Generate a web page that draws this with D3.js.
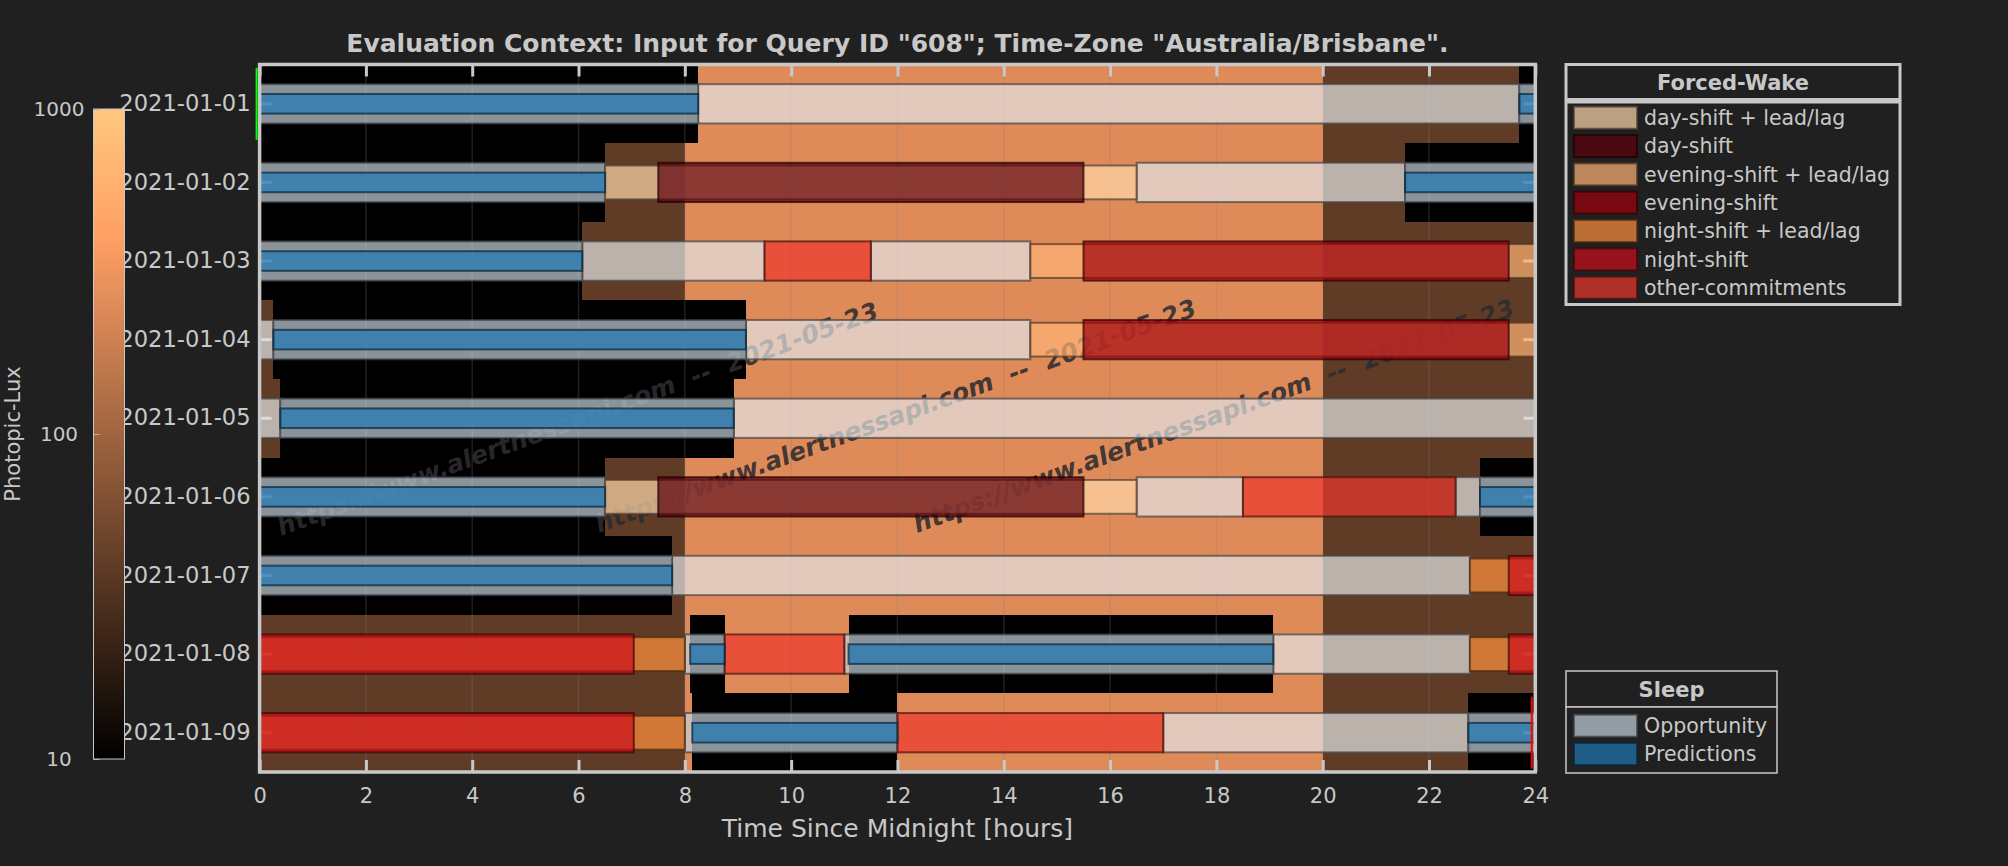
<!DOCTYPE html>
<html>
<head>
<meta charset="utf-8">
<script src="https://cdn.jsdelivr.net/npm/d3@7"></script>
<style>
  html, body { margin: 0; padding: 0; background: #202020; }
  svg { display: block; font-family: "DejaVu Sans", sans-serif; }
</style>
</head>
<body>
<div id="chart"></div>
<script>
// ---------- data ----------
const days = ["2021-01-01", "2021-01-02", "2021-01-03", "2021-01-04", "2021-01-05",
              "2021-01-06", "2021-01-07", "2021-01-08", "2021-01-09"];
const xTicks = [0, 2, 4, 6, 8, 10, 12, 14, 16, 18, 20, 22, 24];
const luxTicks = [10, 100, 1000];

// [day, start hour, end hour, photopic lux]
const luxBands = [
  ["2021-01-01", 0, 8.25, 0], ["2021-01-01", 8.25, 20, 250], ["2021-01-01", 20, 23.7, 40], ["2021-01-01", 23.7, 24, 0],
  ["2021-01-02", 0, 6.5, 0], ["2021-01-02", 6.5, 8, 40], ["2021-01-02", 8, 20, 250], ["2021-01-02", 20, 21.55, 40], ["2021-01-02", 21.55, 24, 0],
  ["2021-01-03", 0, 6.07, 0], ["2021-01-03", 6.07, 8, 40], ["2021-01-03", 8, 20, 250], ["2021-01-03", 20, 24, 40],
  ["2021-01-04", 0, 0.26, 40], ["2021-01-04", 0.26, 9.15, 0], ["2021-01-04", 9.15, 20, 250], ["2021-01-04", 20, 24, 40],
  ["2021-01-05", 0, 0.39, 40], ["2021-01-05", 0.39, 8.92, 0], ["2021-01-05", 8.92, 20, 250], ["2021-01-05", 20, 24, 40],
  ["2021-01-06", 0, 6.5, 0], ["2021-01-06", 6.5, 8, 40], ["2021-01-06", 8, 20, 250], ["2021-01-06", 20, 22.96, 40], ["2021-01-06", 22.96, 24, 0],
  ["2021-01-07", 0, 7.76, 0], ["2021-01-07", 7.76, 8, 40], ["2021-01-07", 8, 20, 250], ["2021-01-07", 20, 24, 40],
  ["2021-01-08", 0, 8, 40], ["2021-01-08", 8, 8.1, 250], ["2021-01-08", 8.1, 8.75, 0], ["2021-01-08", 8.75, 11.08, 250],
  ["2021-01-08", 11.08, 19.07, 0], ["2021-01-08", 19.07, 20, 250], ["2021-01-08", 20, 24, 40],
  ["2021-01-09", 0, 8, 40], ["2021-01-09", 8, 8.14, 250], ["2021-01-09", 8.14, 12, 0], ["2021-01-09", 12, 20, 250],
  ["2021-01-09", 20, 22.74, 40], ["2021-01-09", 22.74, 24, 0]
];

// [day, start, end]
const sleepOpportunity = [
  ["2021-01-01", 0, 8.25], ["2021-01-01", 23.7, 24],
  ["2021-01-02", 0, 6.5], ["2021-01-02", 21.55, 24],
  ["2021-01-03", 0, 6.07],
  ["2021-01-04", 0.26, 9.15],
  ["2021-01-05", 0.39, 8.92],
  ["2021-01-06", 0, 6.5], ["2021-01-06", 22.96, 24],
  ["2021-01-07", 0, 7.76],
  ["2021-01-08", 8.0, 8.75], ["2021-01-08", 11.0, 19.07],
  ["2021-01-09", 8.0, 12.0], ["2021-01-09", 22.74, 24]
];

const sleepPredictions = [
  ["2021-01-01", 0, 8.25], ["2021-01-01", 23.7, 24],
  ["2021-01-02", 0, 6.5], ["2021-01-02", 21.55, 24],
  ["2021-01-03", 0, 6.07],
  ["2021-01-04", 0.26, 9.15],
  ["2021-01-05", 0.39, 8.92],
  ["2021-01-06", 0, 6.5], ["2021-01-06", 22.96, 24],
  ["2021-01-07", 0, 7.76],
  ["2021-01-08", 8.1, 8.75], ["2021-01-08", 11.08, 19.07],
  ["2021-01-09", 8.14, 12.0], ["2021-01-09", 22.74, 24]
];

// unlabeled wake spans
const wakeSpans = [
  ["2021-01-01", 8.25, 23.7],
  ["2021-01-02", 16.5, 21.55],
  ["2021-01-03", 6.07, 9.5], ["2021-01-03", 11.5, 14.5],
  ["2021-01-04", 0, 0.26], ["2021-01-04", 9.15, 14.5],
  ["2021-01-05", 0, 0.39], ["2021-01-05", 8.92, 24],
  ["2021-01-06", 16.5, 18.5], ["2021-01-06", 22.5, 22.96],
  ["2021-01-07", 7.76, 22.77],
  ["2021-01-08", 19.07, 22.77],
  ["2021-01-09", 17.0, 22.74]
];

const forcedWakeCategories = ["day-shift + lead/lag", "day-shift", "evening-shift + lead/lag",
  "evening-shift", "night-shift + lead/lag", "night-shift", "other-commitments"];

// [day, start, end, category]
const forcedWake = [
  ["2021-01-02", 6.5, 16.5, "day-shift + lead/lag"], ["2021-01-02", 7.5, 15.5, "day-shift"],
  ["2021-01-03", 9.5, 11.5, "other-commitments"],
  ["2021-01-03", 14.5, 24, "evening-shift + lead/lag"], ["2021-01-03", 15.5, 23.5, "evening-shift"],
  ["2021-01-04", 14.5, 24, "evening-shift + lead/lag"], ["2021-01-04", 15.5, 23.5, "evening-shift"],
  ["2021-01-06", 6.5, 16.5, "day-shift + lead/lag"], ["2021-01-06", 7.5, 15.5, "day-shift"],
  ["2021-01-06", 18.5, 22.5, "other-commitments"],
  ["2021-01-07", 22.77, 24, "night-shift + lead/lag"], ["2021-01-07", 23.5, 24, "night-shift"],
  ["2021-01-08", 0, 8.0, "night-shift + lead/lag"], ["2021-01-08", 0, 7.04, "night-shift"],
  ["2021-01-08", 8.75, 11.0, "other-commitments"],
  ["2021-01-08", 22.77, 24, "night-shift + lead/lag"], ["2021-01-08", 23.5, 24, "night-shift"],
  ["2021-01-09", 0, 8.0, "night-shift + lead/lag"], ["2021-01-09", 0, 7.04, "night-shift"],
  ["2021-01-09", 12.0, 17.0, "other-commitments"]
];

const sleepCategories = ["Opportunity", "Predictions"];
const dataStart = ["2021-01-01", 0];
const dataEnd = ["2021-01-09", 24];
const watermarkText = "https://www.alertnessapi.com  --  2021-05-23";
const titleText = 'Evaluation Context: Input for Query ID "608"; Time-Zone "Australia/Brisbane".';

// ---------- setup ----------
const W = 2008, H = 866;
const textColor = "#c8c8c8";
const alpha = 0.7;

const svg = d3.select("#chart").append("svg")
    .attr("width", W)
    .attr("height", H);

svg.append("rect").attr("width", W).attr("height", H).attr("fill", "#202020");

const x = d3.scaleLinear().domain([0, 24]).range([259.6, 1535.3]);
const y = d3.scaleBand().domain(days).range([64.5, 772]);
const bw = y.bandwidth();
const yc = d => y(d) + bw / 2;

// matplotlib "copper" colormap on a log lux scale
const copper = t => d3.rgb(Math.min(1, 1.25 * t) * 255, 0.7812 * t * 255, 0.4975 * t * 255);
const luxNorm = d3.scaleLog().domain([10, 1000]).range([0, 1]).clamp(true);
const luxColor = v => copper(luxNorm(Math.max(v, 10)));

const categoryColor = d3.scaleOrdinal()
    .domain(forcedWakeCategories)
    .range(["#ffd7a9", "#5c000b", "#ffb476", "#9e000c", "#ff923f", "#cc0d1a", "#ec372d"]);
const sleepColor = d3.scaleOrdinal()
    .domain(sleepCategories)
    .range(["#c5d1dc", "#1f77b4"]);
const wakeColor = "#e2e4e6";
const edge = c => d3.color(c).darker(3.3);

// ---------- heatmap ----------
svg.append("g").selectAll("rect")
    .data(luxBands)
    .join("rect")
    .attr("x", d => x(d[1]))
    .attr("width", d => x(d[2]) - x(d[1]))
    .attr("y", d => y(d[0]))
    .attr("height", bw)
    .attr("fill", d => luxColor(d[3]))
    .attr("shape-rendering", "crispEdges");

// grid
svg.append("g").selectAll("line")
    .data(xTicks.slice(1, -1))
    .join("line")
    .attr("x1", d => x(d)).attr("x2", d => x(d))
    .attr("y1", 64.5).attr("y2", 772)
    .attr("stroke", "#808080")
    .attr("stroke-opacity", 0.25)
    .attr("stroke-width", 1.5);

// ---------- axes ----------
function styleAxis(g, fs) {
    g.attr("font-family", "DejaVu Sans").attr("font-size", fs);
    g.select(".domain").remove();
    g.selectAll(".tick line").attr("stroke", textColor).attr("stroke-width", 3);
    g.selectAll(".tick text").attr("fill", textColor);
}

svg.append("g")
    .attr("transform", "translate(0,772)")
    .call(d3.axisBottom(x).tickValues(xTicks).tickSizeInner(-12).tickSizeOuter(0).tickPadding(16))
    .call(g => styleAxis(g, 21));

svg.append("g")
    .attr("transform", "translate(0,64.5)")
    .call(d3.axisTop(x).tickValues(xTicks).tickSizeInner(-12).tickSizeOuter(0).tickFormat(""))
    .call(g => styleAxis(g, 21));

svg.append("g")
    .attr("transform", `translate(${x(0)},0)`)
    .call(d3.axisLeft(y).tickSizeInner(-12).tickSizeOuter(0).tickPadding(9))
    .call(g => styleAxis(g, 22.6));

svg.append("g")
    .attr("transform", `translate(${x(24)},0)`)
    .call(d3.axisRight(y).tickSizeInner(-12).tickSizeOuter(0).tickFormat(""))
    .call(g => styleAxis(g, 22));

// ---------- watermark (under the bars) ----------
const marks = [[281, 536], [599, 533], [917, 533]];
svg.append("g").selectAll("text")
    .data(marks)
    .join("text")
    .attr("transform", d => `translate(${d[0]},${d[1]}) rotate(-20)`)
    .style("white-space", "pre")
    .attr("font-size", 25)
    .attr("font-weight", "bold")
    .attr("font-style", "italic")
    .attr("fill", "#2d2d30")
    .attr("fill-opacity", 0.9)
    .text(watermarkText);

// ---------- bars ----------
function drawBars(data, colorOf, hFrac) {
    svg.append("g").selectAll("rect")
        .data(data)
        .join("rect")
        .attr("x", d => x(d[1]))
        .attr("width", d => x(d[2]) - x(d[1]))
        .attr("y", d => yc(d[0]) - bw * hFrac / 2)
        .attr("height", bw * hFrac)
        .attr("fill", d => colorOf(d))
        .attr("fill-opacity", alpha)
        .attr("stroke", d => edge(colorOf(d)))
        .attr("stroke-opacity", alpha)
        .attr("stroke-width", 2);
}

const isLead = d => d[3].includes("lead/lag");

drawBars(wakeSpans, d => wakeColor, 0.5);
drawBars(sleepOpportunity, d => sleepColor("Opportunity"), 0.5);
drawBars(forcedWake.filter(isLead), d => categoryColor(d[3]), 0.43);
drawBars(forcedWake.filter(d => !isLead(d)), d => categoryColor(d[3]), 0.5);
drawBars(sleepPredictions, d => sleepColor("Predictions"), 0.25);

// spines
svg.append("rect")
    .attr("x", x(0)).attr("y", 64.5)
    .attr("width", x(24) - x(0)).attr("height", 772 - 64.5)
    .attr("fill", "none")
    .attr("stroke", textColor)
    .attr("stroke-width", 3.5);

// start / end markers
svg.append("line")
    .attr("x1", x(dataStart[1]) - 3).attr("x2", x(dataStart[1]) - 3)
    .attr("y1", yc(dataStart[0]) - 36).attr("y2", yc(dataStart[0]) + 36)
    .attr("stroke", "#00ff00").attr("stroke-width", 2);
svg.append("line")
    .attr("x1", x(dataEnd[1]) - 3.5).attr("x2", x(dataEnd[1]) - 3.5)
    .attr("y1", yc(dataEnd[0]) - 36).attr("y2", yc(dataEnd[0]) + 36)
    .attr("stroke", "#ff0000").attr("stroke-width", 2);

// titles
svg.append("text")
    .attr("x", (x(0) + x(24)) / 2).attr("y", 51.7)
    .attr("text-anchor", "middle")
    .attr("font-size", 25).attr("font-weight", "bold")
    .attr("fill", textColor)
    .text(titleText);

svg.append("text")
    .attr("x", (x(0) + x(24)) / 2).attr("y", 836.7)
    .attr("text-anchor", "middle")
    .attr("font-size", 25)
    .attr("fill", textColor)
    .text("Time Since Midnight [hours]");

// ---------- colorbar ----------
const cb = {x: 93.5, y: 109, w: 31, h: 650};
const grad = svg.append("defs").append("linearGradient")
    .attr("id", "copper")
    .attr("x1", 0).attr("y1", 1).attr("x2", 0).attr("y2", 0);
grad.selectAll("stop")
    .data([0, 0.2, 0.4, 0.6, 0.8, 1])
    .join("stop")
    .attr("offset", d => d)
    .attr("stop-color", d => copper(d));

svg.append("rect")
    .attr("x", cb.x).attr("y", cb.y)
    .attr("width", cb.w).attr("height", cb.h)
    .attr("fill", "url(#copper)")
    .attr("stroke", textColor)
    .attr("stroke-width", 1);

const luxAxis = d3.scaleLog().domain([10, 1000]).range([cb.y + cb.h, cb.y]);
svg.append("g")
    .attr("transform", `translate(${cb.x},0)`)
    .call(d3.axisLeft(luxAxis).tickValues(luxTicks).tickFormat(d3.format("d"))
        .tickSizeInner(-6).tickSizeOuter(0))
    .call(g => {
        g.attr("font-family", "DejaVu Sans").attr("font-size", 20);
        g.select(".domain").remove();
        g.selectAll(".tick line").attr("stroke", "#aab4c0").attr("stroke-width", 1);
        g.selectAll(".tick text").attr("fill", textColor)
            .attr("x", -34.5).attr("text-anchor", "middle");
    });

svg.append("text")
    .attr("transform", `translate(19.5,${cb.y + cb.h / 2}) rotate(-90)`)
    .attr("text-anchor", "middle")
    .attr("font-size", 21)
    .attr("fill", textColor)
    .text("Photopic-Lux");

// ---------- legends ----------
function legend(opts) {
    let g = svg.append("g");
    g.append("rect")
        .attr("x", opts.x).attr("y", opts.y)
        .attr("width", opts.w).attr("height", opts.titleH)
        .attr("fill", "#202020")
        .attr("stroke", textColor).attr("stroke-width", opts.sw);
    g.append("rect")
        .attr("x", opts.x).attr("y", opts.y + opts.titleH + opts.gap)
        .attr("width", opts.w).attr("height", opts.bodyH)
        .attr("fill", "#202020")
        .attr("stroke", textColor).attr("stroke-width", opts.sw);
    g.append("text")
        .attr("x", opts.x + opts.w / 2).attr("y", opts.y + opts.titleH * 0.73)
        .attr("text-anchor", "middle")
        .attr("font-size", 21).attr("font-weight", "bold")
        .attr("fill", textColor)
        .text(opts.title);

    let rows = g.selectAll("g.entry")
        .data(opts.items)
        .join("g")
        .attr("class", "entry")
        .attr("transform", (d, i) => `translate(${opts.x + 8},${opts.firstY + i * opts.step})`);
    rows.append("rect")
        .attr("x", 0).attr("y", -11)
        .attr("width", 63).attr("height", 22)
        .attr("fill", d => opts.color(d))
        .attr("fill-opacity", alpha)
        .attr("stroke", d => edge(opts.color(d)))
        .attr("stroke-opacity", alpha)
        .attr("stroke-width", 2);
    rows.append("text")
        .attr("x", 70).attr("dy", "0.35em")
        .attr("font-size", 20.5)
        .attr("fill", textColor)
        .text(d => d);
}

legend({
    x: 1566, y: 64.5, w: 334, titleH: 35, gap: 2.5, bodyH: 202.5, sw: 3,
    title: "Forced-Wake", items: forcedWakeCategories, color: categoryColor,
    firstY: 117.7, step: 28.33
});

legend({
    x: 1566, y: 671, w: 211, titleH: 36, gap: 0, bodyH: 66, sw: 1.5,
    title: "Sleep", items: sleepCategories, color: sleepColor,
    firstY: 725.7, step: 28.3
});
</script>
</body>
</html>
